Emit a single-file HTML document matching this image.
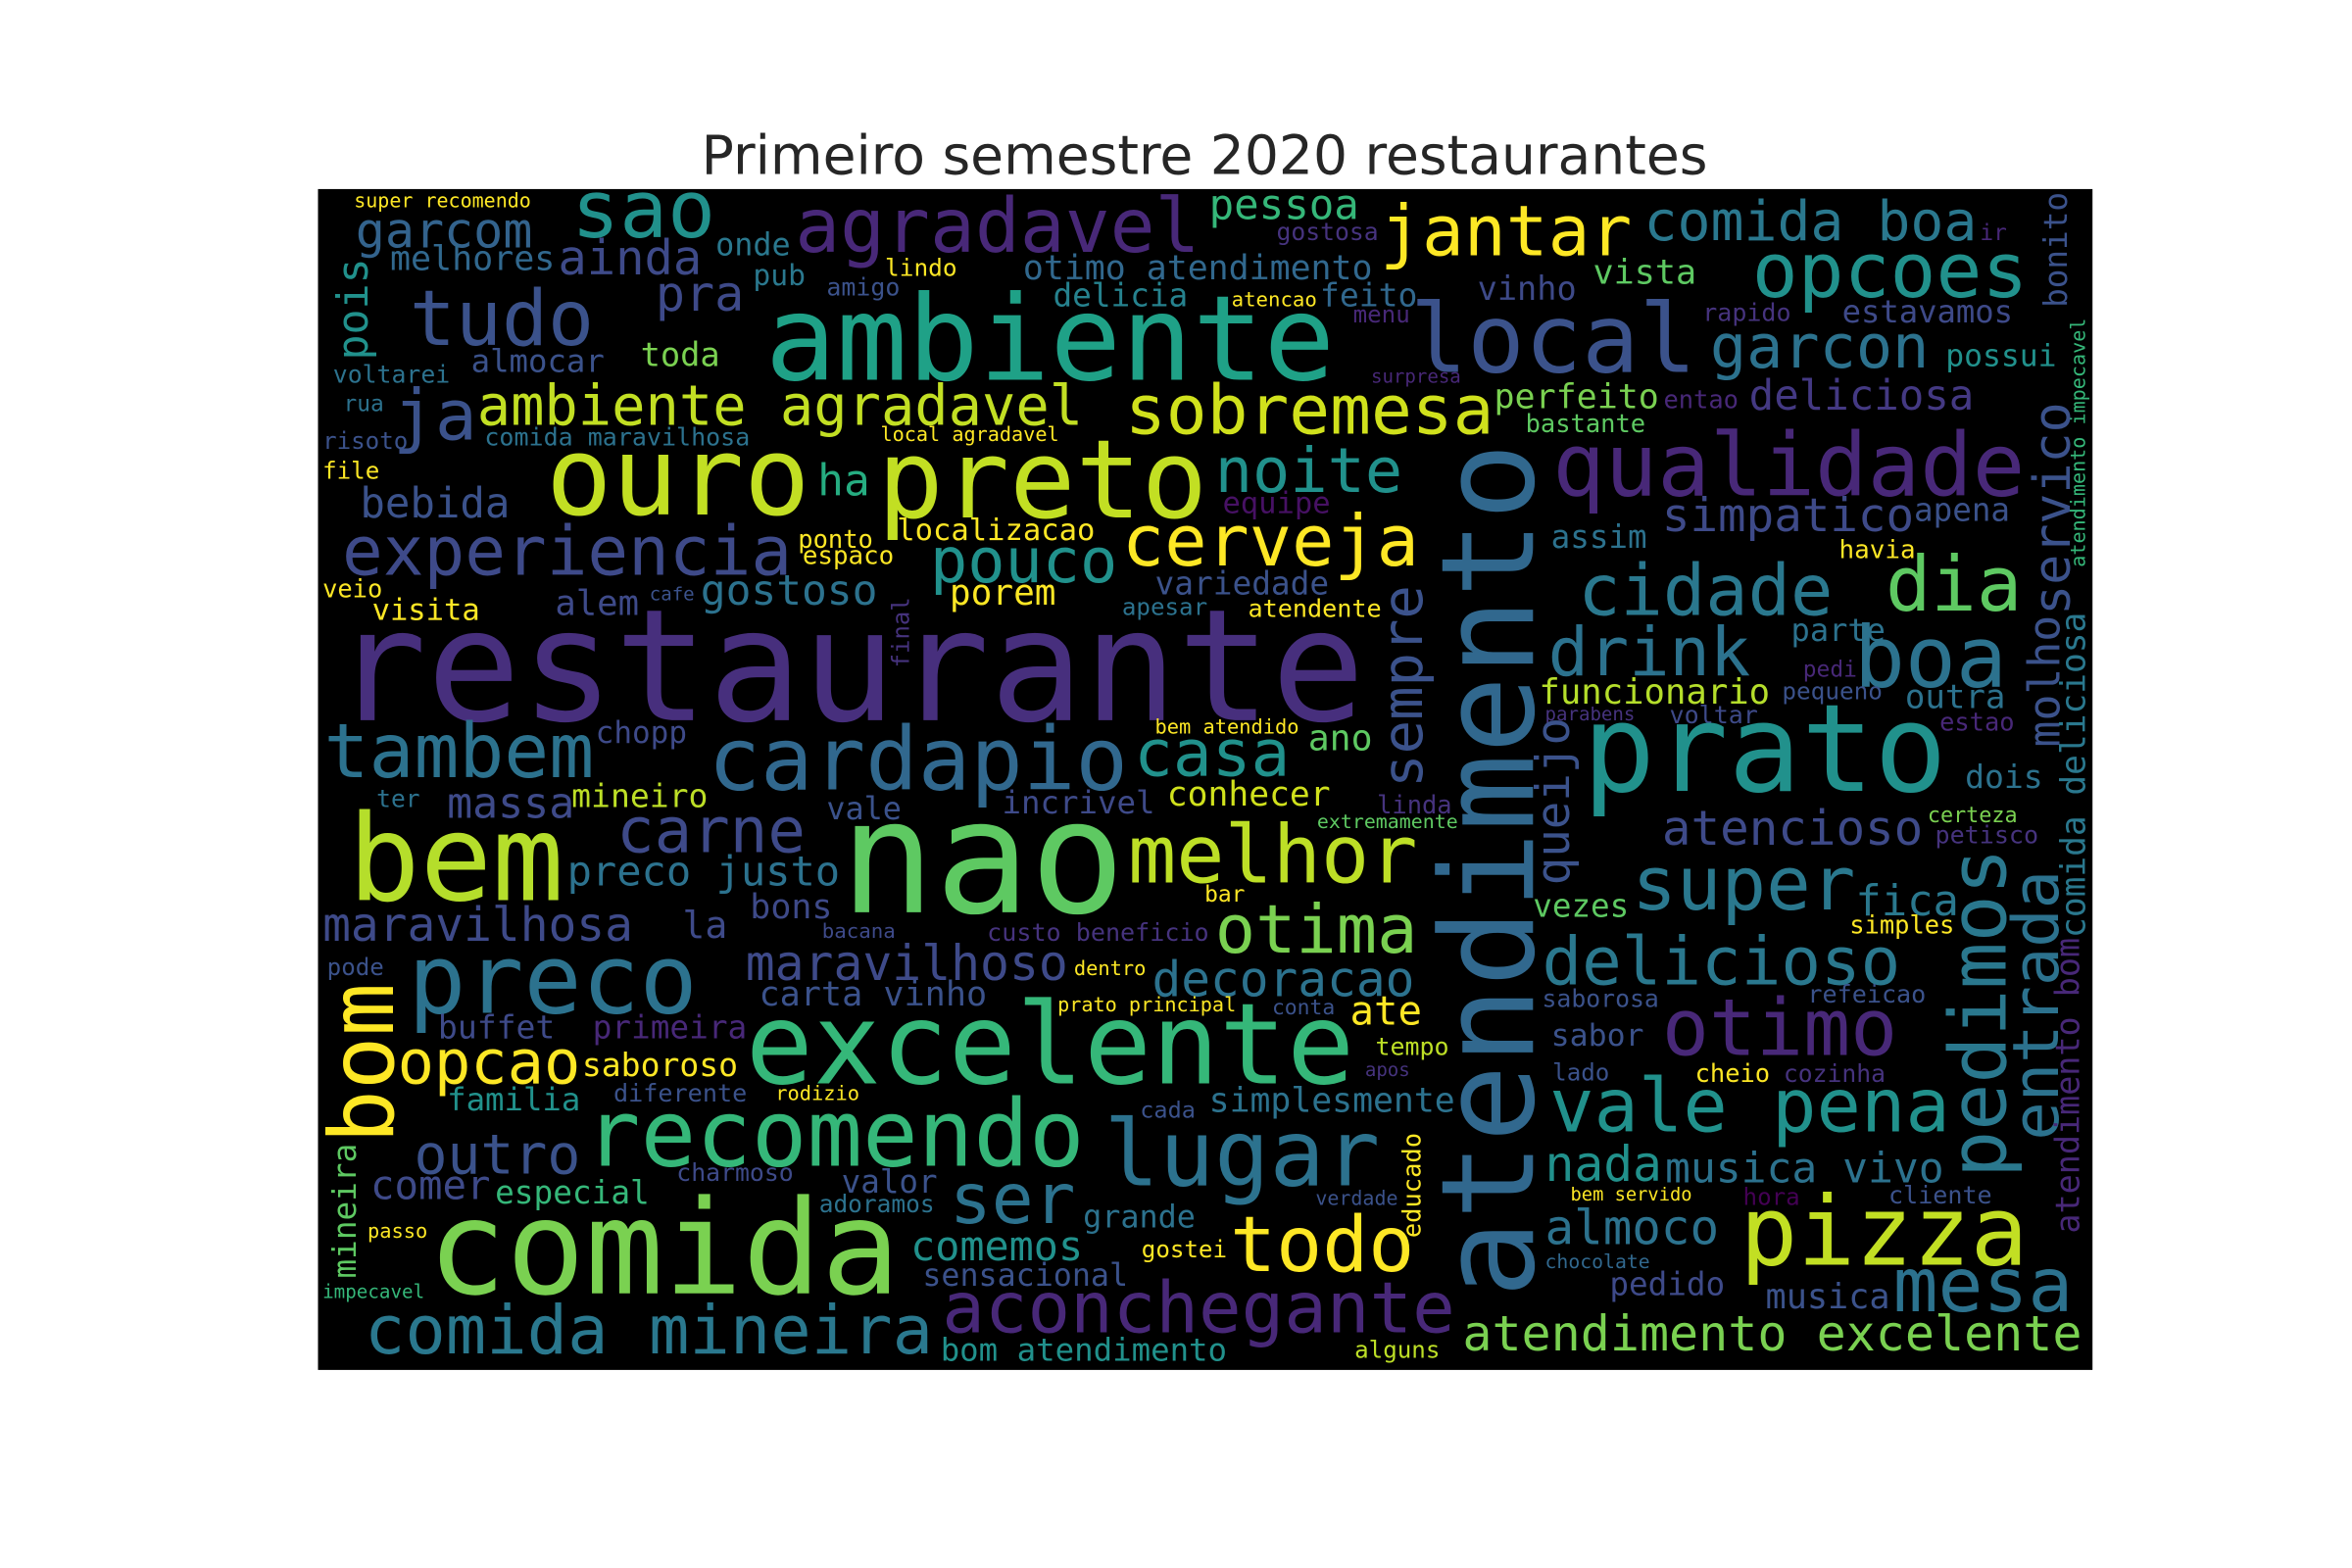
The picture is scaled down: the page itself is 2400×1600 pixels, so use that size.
<!DOCTYPE html>
<html><head><meta charset="utf-8"><style>
html,body{margin:0;padding:0;background:#fff;width:2400px;height:1600px;overflow:hidden}
svg{display:block}
</style></head><body>
<svg id="chart" width="2400" height="1600" viewBox="0 0 1568 1045" preserveAspectRatio="none" xmlns="http://www.w3.org/2000/svg">
<text x="803" y="116" text-anchor="middle" font-family="DejaVu Sans, Liberation Sans, sans-serif" font-size="36" fill="#262626">Primeiro semestre 2020 restaurantes</text>
<rect x="212" y="126" width="1183" height="787" fill="#000"/>
<g id="words"></g>
</svg>
<script>
// horizontal words: [text, left, right, baseline, color]
const hWords = [
["super recomendo",236,354,138,"#fde725"],["garcom",237,355,165,"#33638d"],["sao",381,477,158,"#21918c"],["onde",477,527,170,"#2a788e"],
["agradavel",530,800,168,"#482878"],["pessoa",806,906,146,"#35b779"],["gostosa",851,919,160,"#46337e"],["jantar",920,1088,170,"#fde725"],
["comida boa",1096,1318,160,"#2a788e"],["ir",1320,1338,160,"#482878"],["melhores",260,370,180,"#31688e"],["ainda",372,468,183,"#3e4a89"],
["pub",502,537,190,"#2a788e"],["amigo",551,600,197,"#3b528b"],["lindo",590,638,184,"#fde725"],["otimo atendimento",682,915,186,"#31688e"],
["opcoes",1168,1352,198,"#21918c"],["tudo",273,396,230,"#3b528b"],["pra",437,496,207,"#3e4a89"],["ambiente",510,890,253,"#1fa187"],
["delicia",702,792,204,"#26828e"],["atencao",821,878,204,"#fde725"],["feito",880,945,204,"#31688e"],["menu",902,940,215,"#482878"],
["local",940,1131,248,"#3b528b"],["vinho",985,1051,200,"#3e4a89"],["vista",1062,1131,189,"#5ec962"],["rapido",1135,1194,214,"#46337e"],
["estavamos",1228,1342,215,"#3e4a89"],["garcon",1140,1286,245,"#2c728e"],["possui",1297,1371,244,"#21918c"],["voltarei",222,300,255,"#2c728e"],
["almocar",314,403,248,"#3b528b"],["toda",427,480,244,"#7ad151"],["ja",262,318,293,"#3b528b"],["rua",229,256,274,"#2c728e"],
["ambiente agradavel",318,722,283,"#c2df23"],["sobremesa",750,996,289,"#d0e11c"],["perfeito",996,1106,272,"#7ad151"],["entao",1109,1159,272,"#482878"],
["deliciosa",1166,1316,273,"#443983"],["bastante",1017,1097,288,"#5ec962"],["surpresa",914,974,255,"#482878"],["risoto",215,272,299,"#3b528b"],
["comida maravilhosa",323,500,297,"#2c728e"],["local agradavel",587,706,294,"#fde725"],["file",215,253,319,"#fde725"],["ouro",364,540,343,"#c2df23"],
["preto",585,805,345,"#c2df23"],["noite",810,935,328,"#21918c"],["qualidade",1035,1350,330,"#482878"],["bebida",240,340,345,"#3b528b"],
["ha",545,580,330,"#26ad81"],["equipe",815,887,342,"#471164"],["experiencia",228,528,383,"#3e4a89"],["simpatico",1108,1276,354,"#3e4a89"],
["apena",1276,1340,347,"#3b528b"],["assim",1034,1098,365,"#2c728e"],["havia",1226,1277,372,"#fde725"],["ponto",532,582,365,"#fde725"],
["localizacao",598,730,360,"#fde725"],["espaco",535,596,376,"#fde725"],["pouco",620,745,388,"#21918c"],["cerveja",748,946,377,"#fde725"],
["cidade",1052,1222,410,"#2a788e"],["dia",1257,1348,407,"#5ec962"],["veio",215,255,398,"#fde725"],["visita",248,320,413,"#fde725"],
["alem",370,426,410,"#3e4a89"],["cafe",433,463,400,"#3b528b"],["gostoso",467,585,403,"#2c728e"],["porem",633,704,403,"#fde725"],
["variedade",770,886,396,"#3b528b"],["apesar",748,805,410,"#2c728e"],["atendente",832,921,411,"#fde725"],["restaurante",222,910,480,"#472f7d"],
["drink",1032,1167,450,"#2c728e"],["boa",1236,1338,458,"#2c728e"],["parte",1194,1257,427,"#2c728e"],["pedi",1202,1238,451,"#482878"],
["funcionario",1026,1180,469,"#b5de2b"],["pequeno",1188,1255,466,"#3b528b"],["outra",1270,1337,472,"#2c728e"],["tambem",216,396,518,"#2c728e"],
["chopp",397,458,495,"#3e4a89"],["cardapio",472,752,526,"#31688e"],["casa",756,860,517,"#21918c"],["bem atendido",770,866,489,"#fde725"],
["ano",872,915,500,"#5ec962"],["parabens",1030,1090,480,"#46337e"],["voltar",1113,1172,482,"#3e4a89"],["estao",1293,1343,487,"#482878"],
["prato",1055,1298,527,"#21918c"],["dois",1310,1362,525,"#2c728e"],["ter",251,280,538,"#2c728e"],["massa",298,383,545,"#3e4a89"],
["mineiro",381,472,538,"#bddf26"],["incrivel",668,770,542,"#3e4a89"],["conhecer",778,887,537,"#d0e11c"],["linda",918,968,542,"#46337e"],
["extremamente",878,972,552,"#5ec962"],["certeza",1285,1345,548,"#7ad151"],["bem",232,376,600,"#b5de2b"],["vale",551,601,546,"#3b528b"],
["carne",411,537,568,"#3e4a89"],["nao",560,750,608,"#5ec962"],["melhor",752,945,588,"#bddf26"],["atencioso",1108,1282,563,"#3e4a89"],
["petisco",1290,1359,562,"#46337e"],["preco justo",378,560,590,"#2c728e"],["super",1088,1237,606,"#2a788e"],["bons",500,555,612,"#3e4a89"],
["maravilhosa",215,422,627,"#3e4a89"],["la",455,485,625,"#3e4a89"],["bacana",548,597,625,"#3e4a89"],["custo beneficio",658,806,627,"#46337e"],
["bar",803,830,601,"#fde725"],["otima",810,945,635,"#7ad151"],["vezes",1022,1086,611,"#5ec962"],["fica",1237,1306,610,"#2a788e"],
["simples",1233,1303,622,"#fde725"],["pode",218,256,650,"#3b528b"],["preco",272,465,675,"#2c728e"],["maravilhoso",497,712,653,"#3e4a89"],
["dentro",716,764,650,"#fde725"],["decoracao",768,943,664,"#2c728e"],["delicioso",1028,1267,656,"#2a788e"],["carta vinho",506,658,670,"#3b528b"],
["prato principal",705,824,674,"#fde725"],["conta",848,890,676,"#3b528b"],["ate",900,948,683,"#fde725"],["saborosa",1028,1106,671,"#3b528b"],
["refeicao",1205,1284,668,"#3b528b"],["otimo",1108,1265,703,"#482878"],["excelente",497,903,722,"#35b779"],["buffet",292,370,692,"#3e4a89"],
["primeira",395,498,692,"#482878"],["opcao",265,387,722,"#fde725"],["saboroso",388,492,717,"#fde725"],["tempo",917,966,703,"#bddf26"],
["sabor",1034,1096,697,"#3b528b"],["apos",910,940,717,"#46337e"],["familia",298,387,740,"#21918c"],["diferente",409,498,734,"#3b528b"],
["rodizio",517,573,733,"#fde725"],["lado",1035,1073,720,"#3b528b"],["cheio",1130,1180,721,"#fde725"],["cozinha",1189,1257,721,"#46337e"],
["simplesmente",806,970,741,"#2c728e"],["recomendo",390,723,777,"#35b779"],["cada",760,797,745,"#3b528b"],["vale pena",1033,1300,754,"#21918c"],
["lugar",736,920,790,"#2c728e"],["outro",276,387,782,"#3b528b"],["nada",1030,1108,787,"#21918c"],["musica vivo",1110,1296,788,"#2c728e"],
["comer",247,327,799,"#3e4a89"],["especial",330,433,802,"#35b779"],["charmoso",451,529,787,"#3e4a89"],["valor",561,625,795,"#3b528b"],
["adoramos",546,623,808,"#2c728e"],["ser",633,717,815,"#2c728e"],["grande",722,797,818,"#2c728e"],["verdade",877,932,803,"#3b528b"],
["bem servido",1047,1128,800,"#fde725"],["hora",1162,1200,803,"#440154"],["cliente",1259,1328,802,"#3b528b"],["passo",245,285,825,"#fde725"],
["comida",285,600,862,"#7ad151"],["comemos",607,722,840,"#21918c"],["gostei",761,818,838,"#fde725"],["todo",820,943,847,"#fde725"],
["almoco",1030,1146,829,"#2c728e"],["pizza",1160,1352,843,"#c2df23"],["chocolate",1030,1100,845,"#31688e"],["sensacional",615,752,857,"#3b528b"],
["impecavel",215,283,865,"#35b779"],["pedido",1073,1150,863,"#3e4a89"],["musica",1177,1260,872,"#3b528b"],["mesa",1262,1382,874,"#2c728e"],
["comida mineira",243,622,902,"#2a788e"],["aconchegante",628,970,888,"#482878"],["bom atendimento",627,818,907,"#21918c"],["alguns",903,960,905,"#bddf26"],
["atendimento excelente",975,1388,900,"#7ad151"]
];
// vertical words: [text, baselineX, bottomY, topY, color]
const vWords = [
["bonito",1378,205,128,"#3b528b"],["pois",245,240,172,"#21918c"],["atendimento impecavel",1390,378,212,"#35b779"],
["servico",1380,410,268,"#3b528b"],["final",606,445,398,"#46337e"],["sempre",948,525,390,"#3b528b"],
["atendimento",1022,865,295,"#31688e"],["molho",1373,498,410,"#3b528b"],["comida deliciosa",1390,625,408,"#2a788e"],
["queijo",1046,590,478,"#3b528b"],["pedimos",1337,785,565,"#2a788e"],["entrada",1372,760,580,"#2c728e"],
["atendimento bom",1386,822,625,"#482878"],["bom",262,762,655,"#fde725"],["mineira",237,852,762,"#5ec962"],["educado",947,825,755,"#fde725"]
];
const NS="http://www.w3.org/2000/svg";
const g=document.getElementById('words');
function mk(t,len,col){
  const el=document.createElementNS(NS,'text');
  const size=len/(t.length*0.602);
  el.setAttribute('font-family','DejaVu Sans Mono, Liberation Mono, monospace');
  el.setAttribute('font-size',size.toFixed(2));
  el.setAttribute('fill',col);
  el.setAttribute('textLength',len);
  el.setAttribute('lengthAdjust','spacingAndGlyphs');
  el.textContent=t;
  return el;
}
hWords.forEach(w=>{
  const el=mk(w[0],w[2]-w[1],w[4]);
  el.setAttribute('x',w[1]);el.setAttribute('y',w[3]);
  
  
  g.appendChild(el);
});
vWords.forEach(w=>{
  const el=mk(w[0],w[2]-w[3],w[4]);
  el.setAttribute('x',0);el.setAttribute('y',0);
  el.setAttribute('transform','translate('+w[1]+','+w[2]+') rotate(-90)');
  
  
  g.appendChild(el);
});
</script>
</body></html>
